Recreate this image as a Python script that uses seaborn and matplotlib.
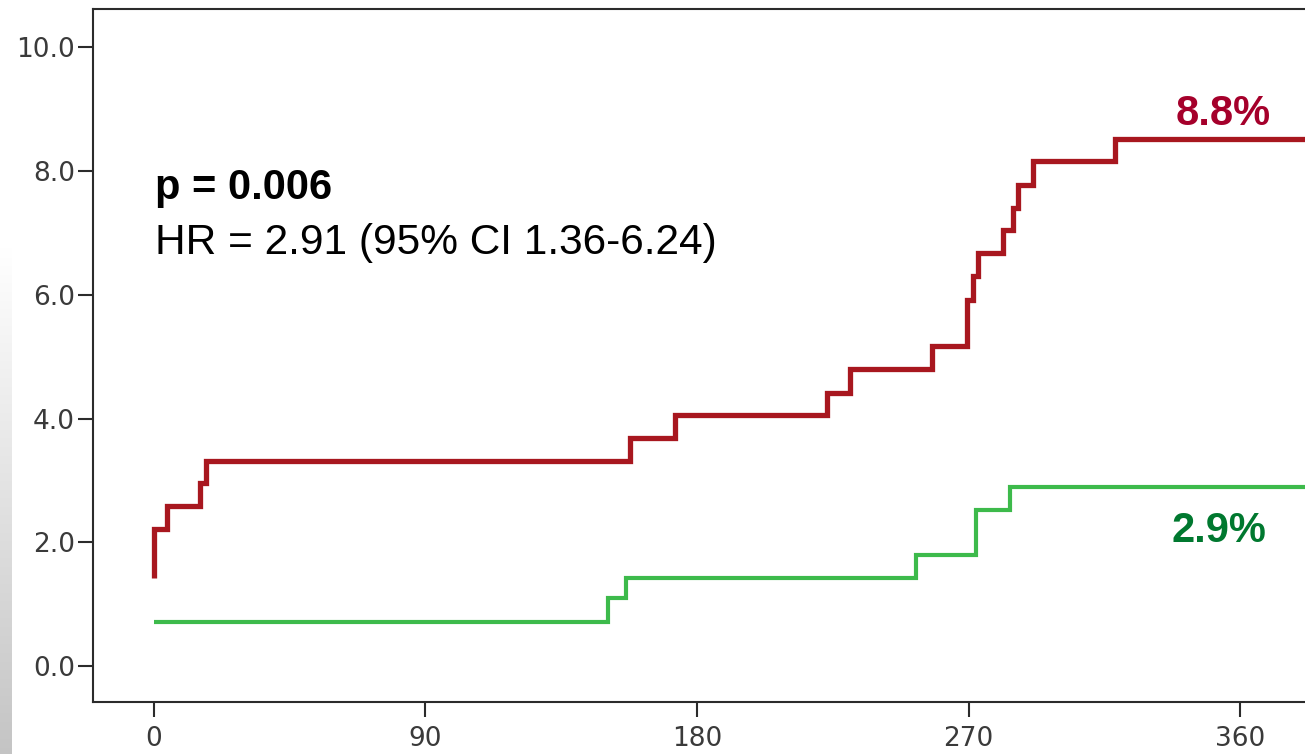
import numpy as np
import pandas as pd
import matplotlib
matplotlib.use("Agg")
import matplotlib.pyplot as plt
import seaborn as sns

# Cumulative incidence (%) over follow-up days, step functions
red_days = [0, 0, 4.3, 15.2, 17.2, 157.8, 172.7, 223.0, 230.7, 257.9, 269.5,
            271.5, 273.1, 281.4, 284.7, 286.4, 291.4, 318.5, 382.0]
red_pct = [1.43, 2.21, 2.58, 2.96, 3.31, 3.69, 4.06, 4.41, 4.80, 5.17, 5.92,
           6.30, 6.67, 7.05, 7.41, 7.78, 8.16, 8.52, 8.52]
green_days = [0, 150.6, 156.6, 252.6, 272.5, 283.7, 382.0]
green_pct = [0.71, 1.10, 1.43, 1.80, 2.53, 2.90, 2.90]

x_ticks = [0, 90, 180, 270, 360]
y_ticks = [0, 2, 4, 6, 8, 10]

p_text = "p = 0.006"
hr_text = "HR = 2.91 (95% CI 1.36-6.24)"
red_label = "8.8%"
green_label = "2.9%"

RED = "#a8171f"
GREEN = "#3dba4b"
RED_TXT = "#a5002b"
GREEN_TXT = "#00782f"

df = pd.concat([
    pd.DataFrame({"day": red_days, "pct": red_pct, "group": "high"}),
    pd.DataFrame({"day": green_days, "pct": green_pct, "group": "low"}),
], ignore_index=True)

sns.set_style("white")
plt.rcParams["font.family"] = ["Liberation Sans", "DejaVu Sans"]

W, H = 1305, 754
fig = plt.figure(figsize=(W / 100, H / 100), dpi=100)

# soft grey strip along the left edge of the slide, white at the top
strip = fig.add_axes([0, 0, 12 / W, 1], zorder=0)
yy = np.linspace(0, 1, 400).reshape(-1, 1)  # 0 = top, 1 = bottom
shade = np.clip((yy - 0.33) / 0.67, 0, 1)
level = 1.0 - 0.23 * shade
rgb = np.dstack([level, level, level])
strip.imshow(rgb, aspect="auto", extent=[0, 1, 0, 1], origin="upper")
strip.axis("off")

ax = fig.add_axes([93 / W, 52 / H, 1 - 93 / W, (H - 9 - 52) / H], zorder=1)
ax.patch.set_alpha(0)

sns.lineplot(data=df, x="day", y="pct", hue="group",
             palette={"high": RED, "low": GREEN},
             estimator=None, sort=False, drawstyle="steps-post",
             legend=False, ax=ax)
for line, lw in zip(ax.lines, [3.8, 3.0]):
    line.set_linewidth(lw)
    line.set_solid_joinstyle("miter")
    line.set_solid_capstyle("butt")

ax.set_xlim(-20.2, 381.5)
ax.set_ylim(-0.58, 10.62)
ax.set_xticks(x_ticks)
ax.set_xticklabels([str(t) for t in x_ticks])
ax.set_yticks(y_ticks)
ax.set_yticklabels([f"{t:.1f}" for t in y_ticks])
ax.set_xlabel("")
ax.set_ylabel("")

for side in ["left", "bottom", "top"]:
    ax.spines[side].set_visible(True)
    ax.spines[side].set_color("#2b2b2b")
    ax.spines[side].set_linewidth(1.5)
ax.spines["right"].set_visible(False)

ax.tick_params(axis="both", which="major", direction="out", length=11,
               width=1.5, color="#2b2b2b", labelcolor="#3a3a3a",
               left=True, bottom=True)
for lab in ax.get_xticklabels() + ax.get_yticklabels():
    lab.set_fontfamily("DejaVu Sans")
    lab.set_fontsize(19)
ax.tick_params(axis="y", pad=2)
ax.tick_params(axis="x", pad=6)

ax.text(0.3, 7.55, p_text, fontsize=30, fontweight="bold", color="black",
        ha="left", va="baseline")
ax.text(0.3, 6.66, hr_text, fontsize=30.5, color="black",
        ha="left", va="baseline")
ax.text(354.3, 8.74, red_label, fontsize=30, fontweight="bold",
        color=RED_TXT, ha="center", va="baseline")
ax.text(353.0, 2.0, green_label, fontsize=30, fontweight="bold",
        color=GREEN_TXT, ha="center", va="baseline")

fig.savefig("out.png", dpi=100)
